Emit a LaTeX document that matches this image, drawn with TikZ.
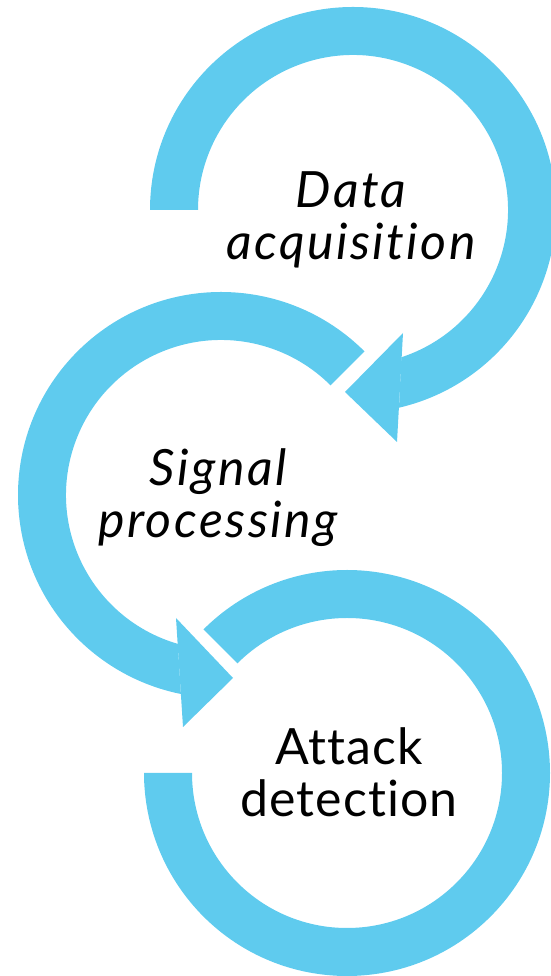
\documentclass[tikz,border=0pt]{standalone}
\usepackage{fontspec}
\setmainfont{Lato}[Ligatures=NoCommon,UprightFeatures={LetterSpace=2},ItalicFeatures={LetterSpace=5}]
\usetikzlibrary{calc}
\definecolor{cycleblue}{RGB}{95,203,238}
\begin{document}
\begin{tikzpicture}[x=1pt,y=1pt,
    band/.style={fill=cycleblue},
    cycletext/.style={align=center,inner sep=0pt,anchor=base,font=\fontsize{50}{52.5}\selectfont},
    slanted/.style={cycletext,font=\fontsize{50}{52.5}\selectfont\itshape}]
  \useasboundingbox (0,0) rectangle (550,976);
  \coordinate (c1) at (353,766);
  \coordinate (c2) at (221,481);
  \coordinate (c3) at (347,203);
  % rings: centre / start / outer end / inner end
  \foreach \c/\a/\b/\e in {c1/180/-76.9/-71.8, c2/45/258.6/253.8, c3/135/-180/-180} {
    \fill[band] ($(\c)+(\a:203)$) arc[start angle=\a, end angle=\b, radius=203] -- ($(\c)+(\e:155)$) arc[start angle=\e, end angle=\a, radius=155] -- cycle;
  }
  % arrow heads
  \foreach \c/\p/\q/\t in {c1/{50,-123}/{44,-232}/{-8,-182}, c2/{-45,-123}/{-38,-232}/{12,-183}} {
    \fill[band] ($(\c)+(\p)$) -- ($(\c)+(\q)$) -- ($(\c)+(\t)$) -- cycle;
  }
  \node[slanted] (acq) at (351,716) {Data\\acquisition};
  \node[slanted] (proc) at (218,438) {Signal\\processing};
  \node[cycletext] (det) at (349,159) {Attack\\detection};
\end{tikzpicture}
\end{document}
